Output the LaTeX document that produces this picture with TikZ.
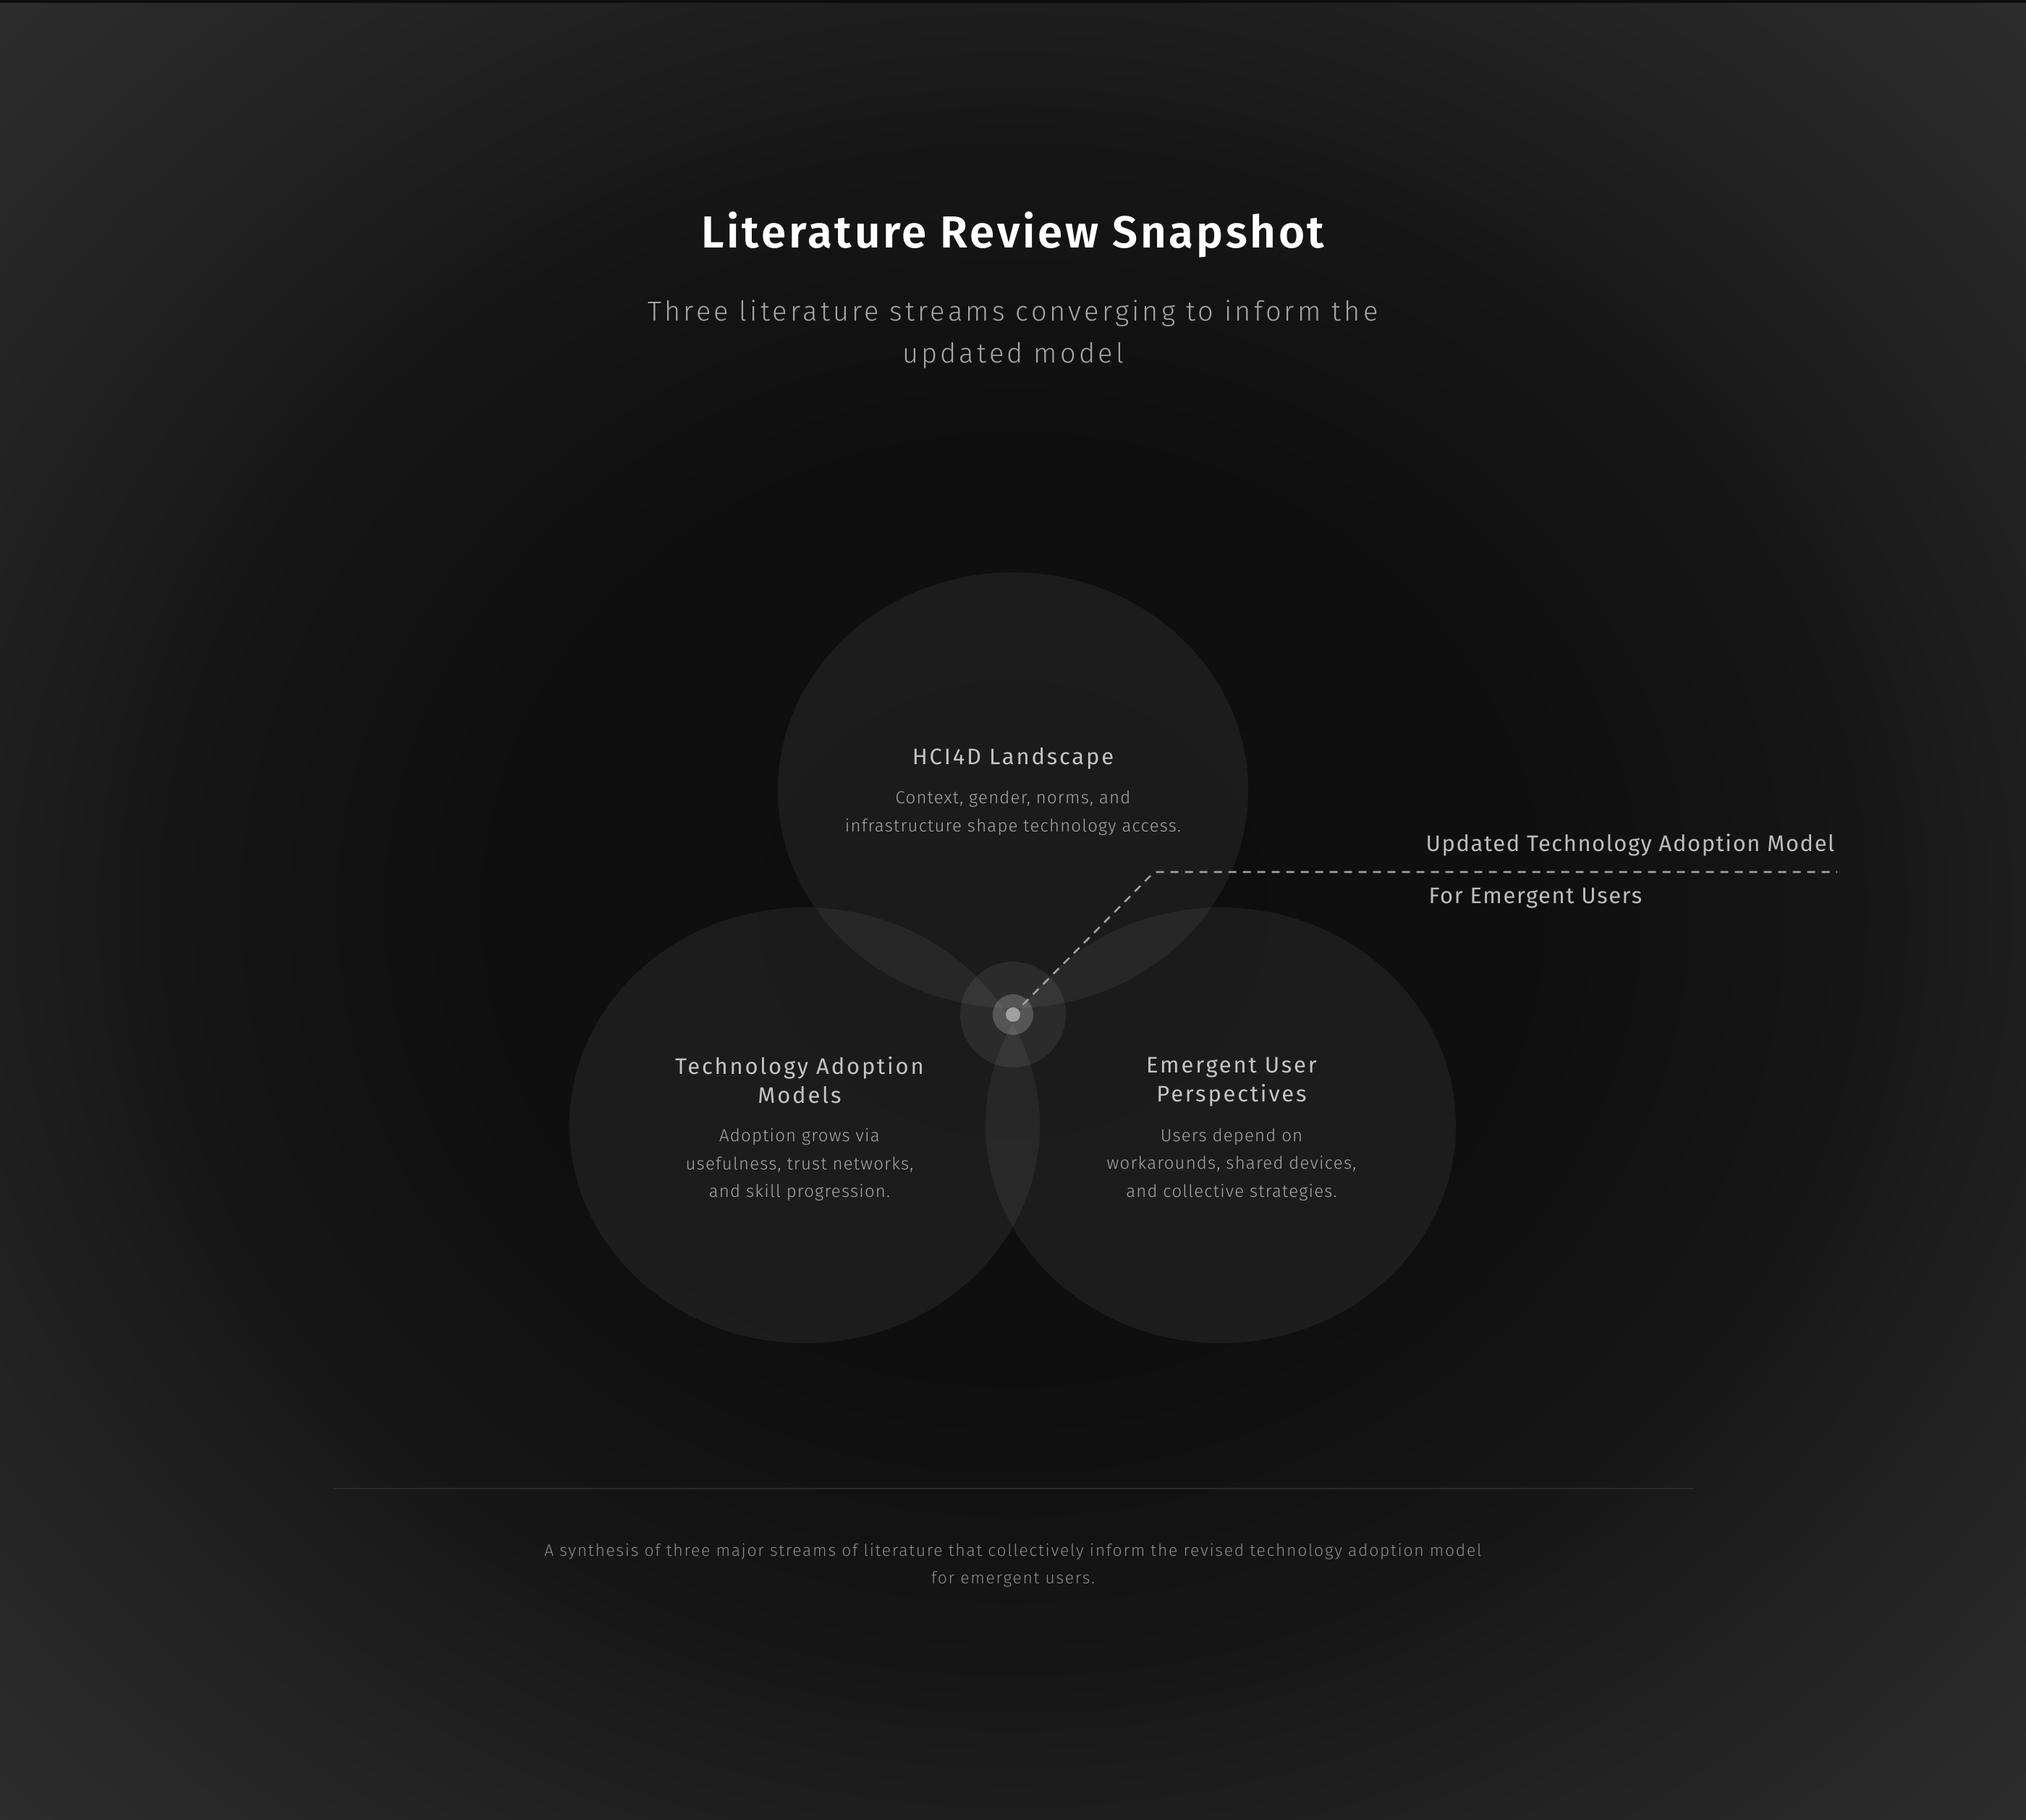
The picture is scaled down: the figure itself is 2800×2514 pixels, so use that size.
\documentclass[tikz,border=0pt]{standalone}
\usepackage{fontspec}
\usetikzlibrary{shapes.geometric}
\setmainfont{Fira Sans}
\IfFontExistsTF{Fira Sans Book}{\def\midname{Fira Sans Book}}{\def\midname{Fira Sans}}
\newfontfamily\titlefont{Fira Sans SemiBold}[LetterSpace=6]
\newfontfamily\subfont{Fira Sans Light}[LetterSpace=11]
\newfontfamily\ctfont{\midname}[LetterSpace=9]
\newfontfamily\bodyfont{Fira Sans Light}[LetterSpace=5]
\newfontfamily\lblfont{\midname}[LetterSpace=5]
\newfontfamily\capfont{Fira Sans Light}[LetterSpace=7.3]
\definecolor{bg0}{HTML}{0E0E0E}
\definecolor{bg1}{HTML}{0F0F0F}
\definecolor{bg2}{HTML}{161616}
\definecolor{bg3}{HTML}{1D1D1D}
\definecolor{bg4}{HTML}{262626}
\definecolor{bg5}{HTML}{2D2D2D}
\definecolor{subc}{HTML}{A6A6A6}
\definecolor{ctc}{HTML}{C4C4C4}
\definecolor{cbc}{HTML}{A8A8A8}
\definecolor{lblc}{HTML}{BDBDBD}
\definecolor{capc}{HTML}{8C8C8C}
\definecolor{leadc}{HTML}{A0A0A0}
\definecolor{sepc}{HTML}{2A2A2A}
\pgfdeclareradialshading{bgglow}{\pgfpoint{0bp}{0bp}}{color(0bp)=(bg0); color(500bp)=(bg1); color(830bp)=(bg2); color(970bp)=(bg3); color(1200bp)=(bg4); color(1420bp)=(bg5)}
\begin{document}
\begin{tikzpicture}[x=1pt,y=-1pt,
  ttl/.style={text=white, font=\titlefont\fontsize{62}{72}\selectfont},
  sub/.style={text=subc, align=center, font=\subfont\fontsize{38}{58}\selectfont},
  ctitle/.style={text=ctc, align=center, font=\ctfont\fontsize{31}{40}\selectfont},
  cbody/.style={text=cbc, align=center, font=\bodyfont\fontsize{24}{38.5}\selectfont},
  lbl/.style={text=lblc, anchor=west, font=\lblfont\fontsize{31}{38}\selectfont},
  captext/.style={text=capc, align=center, font=\capfont\fontsize{23}{38}\selectfont},
  stream/.style={ellipse, minimum width=650pt, minimum height=602pt, inner sep=0pt, fill=white, fill opacity=0.055},
  leader/.style={draw=leadc, line width=2.6pt, dash pattern=on 11pt off 9pt, rounded corners=5pt}
]
\useasboundingbox (0,0) rectangle (2800,2514);
\begin{scope}
\clip (0,0) rectangle (2800,2514);
\begin{scope}[shift={(1400,1257)}, xscale=1.4, yscale=1.257]
\node[inner sep=0pt, transform shape] (bgnode) at (0,0) {\pgfuseshading{bgglow}};
\end{scope}
\fill[bg0] (0,0) rectangle (2800,4);
\end{scope}

% streams
\node[stream] (hci) at (1400,1092) {};
\node[stream] (tam) at (1112,1555) {};
\node[stream] (eup) at (1687,1555) {};

% hub
\node[circle, minimum size=146pt, inner sep=0pt, fill=white, fill opacity=0.07] (hubhalo) at (1400,1402) {};
\node[circle, minimum size=56pt, inner sep=0pt, fill=white, fill opacity=0.2] (hubring) at (hubhalo.center) {};
\node[circle, minimum size=20pt, inner sep=0pt, fill=leadc] (hubdot) at (hubhalo.center) {};
\node[circle, minimum size=38pt, inner sep=0pt] (hubzone) at (hubhalo.center) {};

% leader
\coordinate (lbend) at (1595,1205);
\coordinate (lend) at (2539,1205);
\draw[leader] (hubzone.45) -- (lbend) -- (lend);
\node[lbl] (lblA) at (1967,1168) {Updated Technology Adoption Model};
\node[lbl] (lblB) at (1971,1241) {For Emergent Users};

% titles
\node[ttl] (title) at (1400,324.5) {Literature Review Snapshot};
\node[sub] (subtitle) at (1400,462.5) {Three literature streams converging to inform the\\updated model};

% stream texts
\node[ctitle] (hciT) at (1400,1048.5) {HCI4D Landscape};
\node[cbody] (hciB) at (1400,1123.5) {Context, gender, norms, and\\infrastructure shape technology access.};
\node[ctitle] (tamT) at (1105,1493) {Technology Adoption\\Models};
\node[cbody] (tamB) at (1105,1609.5) {Adoption grows via\\usefulness, trust networks,\\and skill progression.};
\node[ctitle] (eupT) at (1702,1495) {Emergent User\\Perspectives};
\node[cbody] (eupB) at (1702,1609.5) {Users depend on\\workarounds, shared devices,\\and collective strategies.};

% separator and caption
\coordinate (sepL) at (461,2057);
\coordinate (sepR) at (2341,2057);
\draw[sepc, line width=2pt] (sepL) -- (sepR);
\node[captext] (caption) at (1400,2163.5) {A synthesis of three major streams of literature that collectively inform the revised technology adoption model\\for emergent users.};
\end{tikzpicture}
\end{document}
